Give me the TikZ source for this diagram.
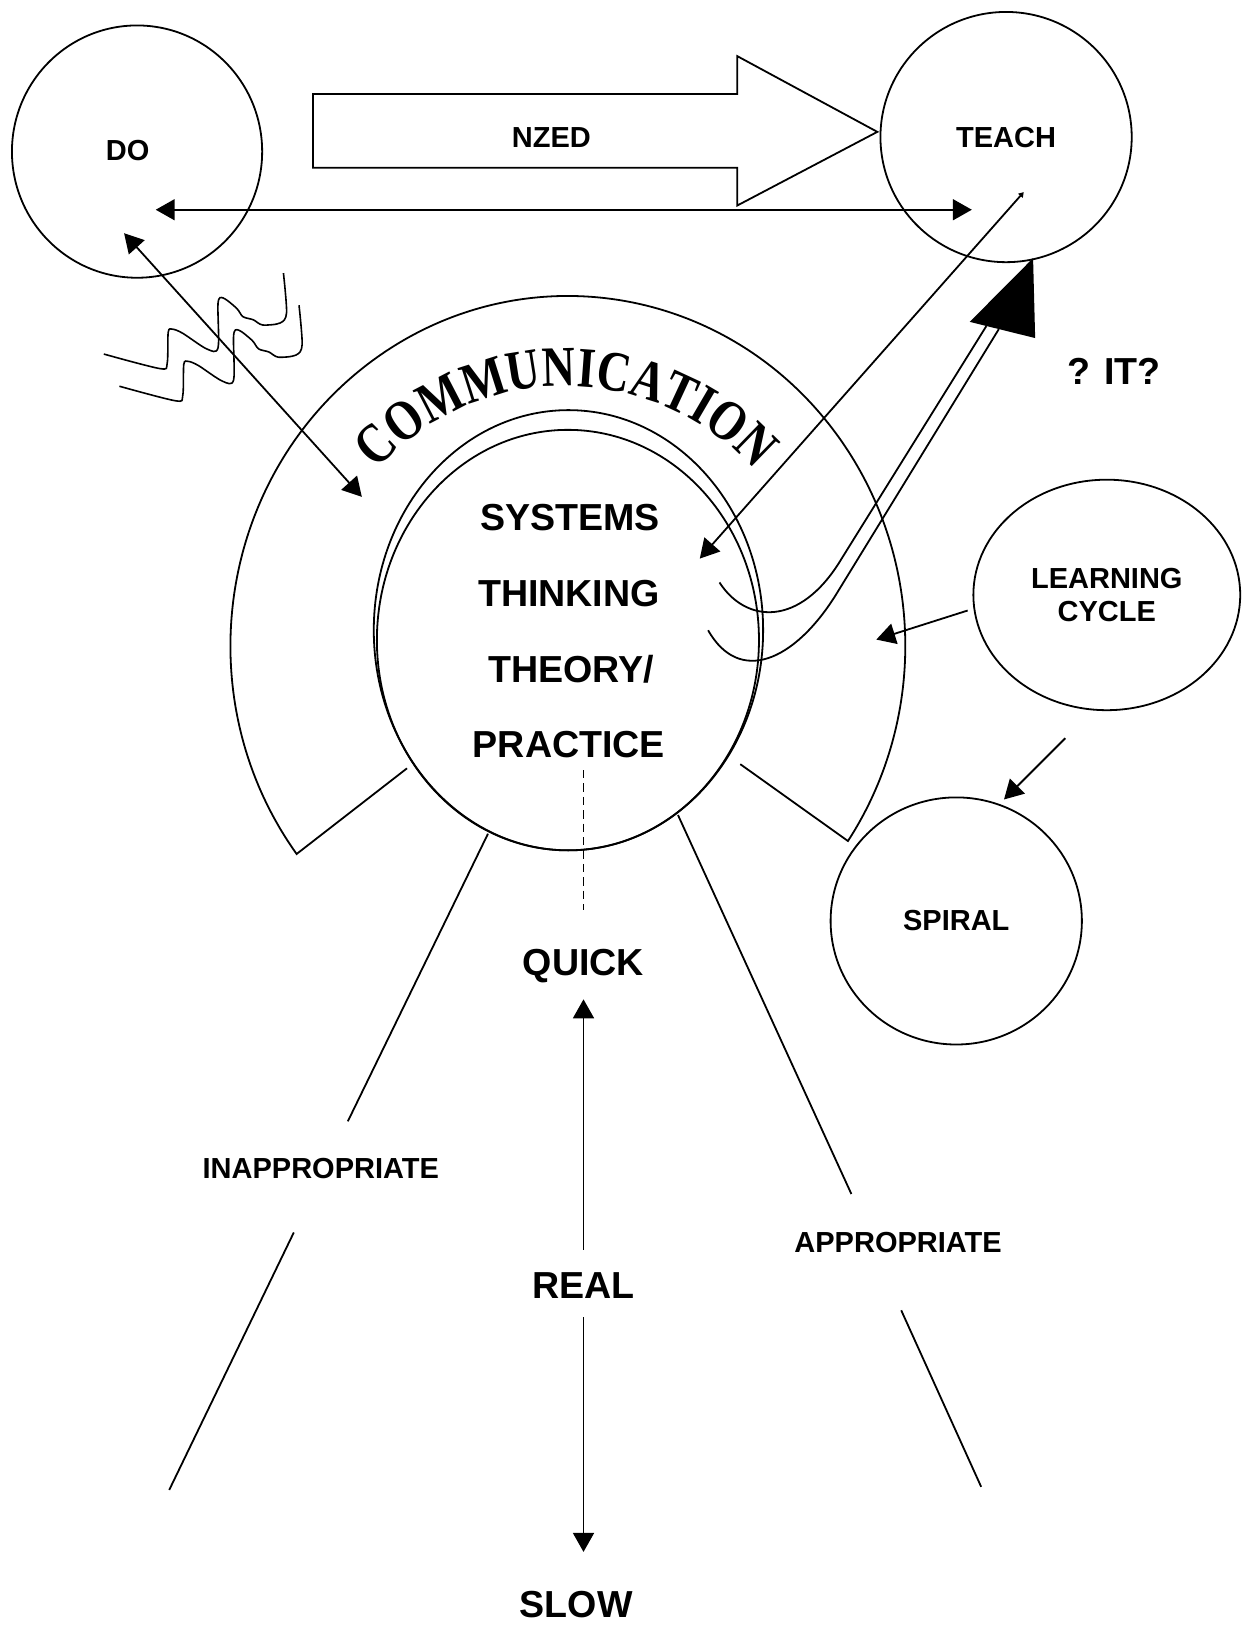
\documentclass[tikz,border=0pt]{standalone}
\usepackage{fontspec}
\setmainfont{Liberation Sans}
\newfontfamily\commfont[FakeStretch=0.81]{Liberation Serif}
\usetikzlibrary{shapes.geometric,arrows.meta,decorations.text}
\newlength\pxu
\setlength\pxu{0.519pt}

\begin{document}
\begin{tikzpicture}[x=\pxu, y=\pxu, line width=0.9pt,
    ring/.style={draw, ellipse, inner sep=0pt},
    small/.style={font=\bfseries\fontsize{14.5}{16.6}\selectfont, inner sep=0pt},
    big/.style={font=\bfseries\fontsize{18.8}{22}\selectfont, inner sep=0pt},
    sglarrow/.style={-{Triangle[length=9.5pt,width=10.5pt]}},
    dblarrow/.style={{Triangle[length=9.5pt,width=10.5pt]}-{Triangle[length=9.5pt,width=10.5pt]}}]
    \useasboundingbox (0,0) rectangle (1200,-1568);

    % circles
    \node[ring, minimum width=241*\pxu, minimum height=243*\pxu] (do) at (132,-146) {};
    \node[small] (dolab) at (123,-144.5) {DO};
    \node[ring, small, minimum width=242*\pxu, minimum height=241*\pxu] (teach) at (969,-132) {TEACH};
    \node[ring, small, align=center, minimum width=257*\pxu, minimum height=222*\pxu] (learn) at (1066,-573) {LEARNING\\CYCLE};
    \node[ring, small, minimum width=242*\pxu, minimum height=238*\pxu] (spiral) at (921,-887) {SPIRAL};

    % NZED arrow
    \draw (301.5,-90.5) -- (710,-90.5) -- (710,-54) -- (845,-127) -- (710,-198) -- (710,-161.5) -- (301.5,-161.5) -- cycle;
    \node[small] (nzed) at (531,-132) {NZED};

    % communication band and inner rings
    \draw (392,-740) -- (285.7,-822.5) arc[start angle=216.5, end angle=-33.9, x radius=325, y radius=337] -- (713,-736);
    \node[ring, minimum width=375*\pxu, minimum height=424*\pxu] (sysA) at (547.5,-607) {};
    \node[ring, minimum width=368*\pxu, minimum height=405*\pxu] (sysB) at (547,-616.5) {};
    \path[decorate, decoration={text along path, text align=center,
        text={|\commfont\bfseries\fontsize{28.5}{31}\selectfont|COMMUNICATION}}]
        (545,-617) ++(150:245) arc[start angle=150, end angle=30, radius=245];

    \node[big] (systems) at (549,-498) {SYSTEMS};
    \node[big] (thinking) at (548,-572) {THINKING};
    \node[big] (theory) at (550,-645) {THEORY/};
    \node[big] (practice) at (548,-717) {PRACTICE};

    % squiggles
    \foreach \s in {0,1}
        \draw[line width=0.8pt, shift={(15*\s,-31*\s)}] plot[smooth, tension=0.5] coordinates {(100,-341) (154,-355) (161,-350) (162,-320) (166,-317) (176,-321) (199,-336) (210,-335) (210,-292) (215,-287) (228,-297) (234,-305) (244,-308) (253,-313) (270,-311) (276,-301) (273,-263)};

    % connectors
    \coordinate (doH) at (150,-202);
    \coordinate (teachH) at (936,-202);
    \draw[dblarrow] (doH) -- (teachH);
    \coordinate (doS) at (119.5,-224.6);
    \coordinate (commS) at (348.5,-478.5);
    \draw[dblarrow] (doS) -- (commS);
    \coordinate (teachS) at (986,-185);
    \coordinate (sysS) at (674,-538);
    \draw[{Triangle[length=2.5pt,width=3pt]}-{Triangle[length=9.5pt,width=10.5pt]}] (teachS) -- (sysS);

    \fill (995,-248.6) -- (934,-310) -- (997,-325.6) -- cycle;
    \draw (693,-561) .. controls (718,-600) and (770,-605) .. (810,-539) -- (950,-314);
    \draw (682,-607) .. controls (712,-660) and (765,-637) .. (805,-573) -- (962,-317);

    \node[big] (it) at (1073,-358) {? IT?};

    \coordinate (lcA) at (932,-588);
    \coordinate (bandR) at (844,-616);
    \draw[sglarrow] (lcA) -- (bandR);
    \coordinate (lcB) at (1026,-711);
    \coordinate (spT) at (967,-770);
    \draw[sglarrow] (lcB) -- (spT);

    % quick / real / slow
    \node[big] (quick) at (562,-930) {QUICK};
    \node[big] (real) at (562,-1238) {REAL};
    \node[big] (slow) at (555,-1545) {SLOW};
    \draw[dash pattern=on 4.2pt off 2.5pt, line width=0.7pt, shorten <=5.7pt, shorten >=19pt] (quick.north |- practice.south) -- (quick.north);
    \draw[sglarrow, shorten <=11pt, shorten >=8pt] (real) -- (quick);
    \draw[sglarrow, shorten <=9pt, shorten >=19pt] (real) -- (real |- slow.north);

    % appropriate / inappropriate
    \node[small] (inappr) at (309,-1125) {INAPPROPRIATE};
    \node[small] (appr) at (865,-1197) {APPROPRIATE};
    \coordinate (inA) at (470,-803);
    \coordinate (inB) at (335,-1080);
    \coordinate (inC) at (283,-1187);
    \coordinate (inD) at (163,-1435);
    \draw (inA) -- (inB);
    \draw (inC) -- (inD);
    \coordinate (apA) at (653,-785);
    \coordinate (apB) at (820,-1150);
    \coordinate (apC) at (868,-1262);
    \coordinate (apD) at (945,-1432);
    \draw (apA) -- (apB);
    \draw (apC) -- (apD);
\end{tikzpicture}
\end{document}
